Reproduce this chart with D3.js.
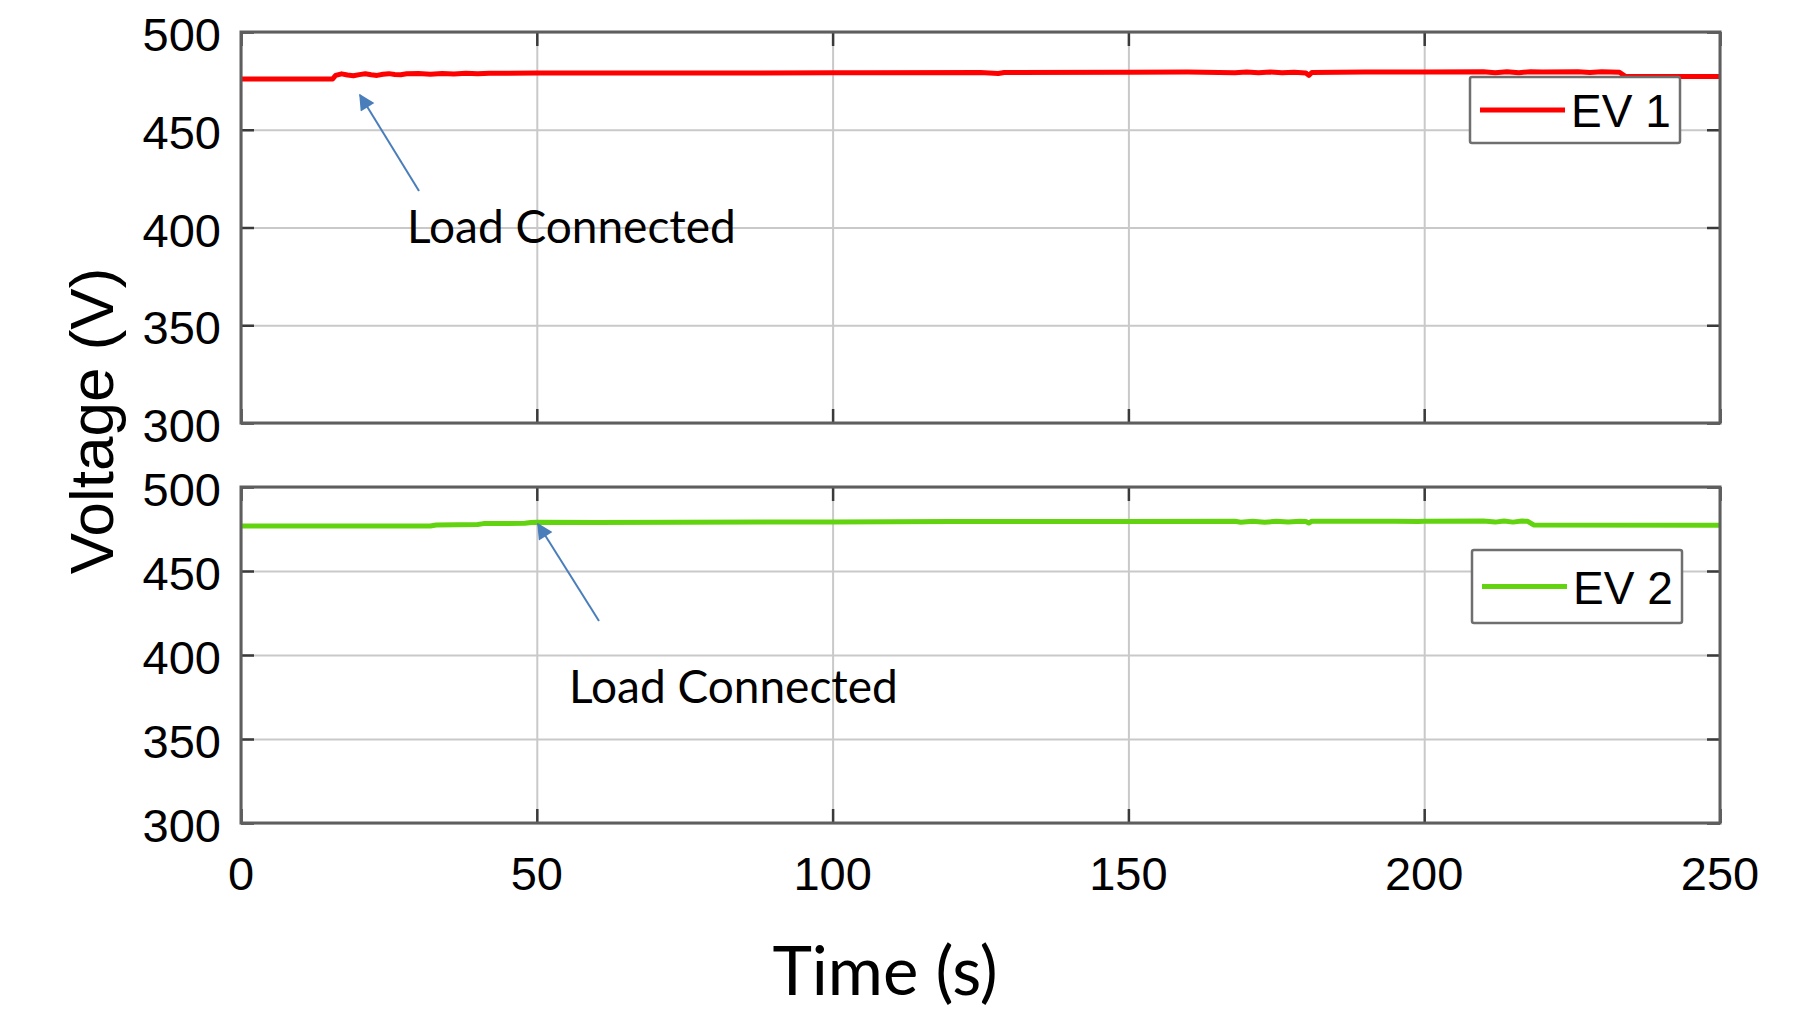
<!DOCTYPE html>
<html>
<head>
<meta charset="utf-8">
<script src="https://cdn.jsdelivr.net/npm/d3@7"></script>
<style>
  body { margin: 0; background: #fff; }
  svg { display: block; }
</style>
</head>
<body>
<div id="chart"></div>
<script>
// values
const xTicks = [0, 50, 100, 150, 200, 250];
const yTicks = [300, 350, 400, 450, 500];

const ev1Time = [0, 15.5, 16, 17, 18, 19, 20, 21, 22, 23, 24, 25, 26, 27, 28, 30, 32, 34, 36, 38, 40, 42, 45,
                 50, 60, 80, 100, 105, 125, 128, 129, 150, 160, 168, 170, 172, 174, 176, 178, 180, 180.5, 181,
                 190, 200, 210, 212, 214, 216, 218, 220, 226, 228, 230, 233, 234, 250];
const ev1Volt = [476.0, 476.0, 477.8, 478.6, 478.0, 477.6, 478.2, 478.6, 478.1, 477.8, 478.4, 478.7, 478.3, 478.1,
                 478.6, 478.8, 478.4, 478.8, 478.5, 478.9, 478.6, 478.9, 478.9, 479.0, 479.0, 479.0, 479.1, 479.2,
                 479.3, 478.8, 479.3, 479.4, 479.5, 479.2, 479.5, 479.1, 479.5, 479.1, 479.4, 479.0, 477.8, 479.3,
                 479.5, 479.6, 479.7, 479.2, 479.7, 479.2, 479.7, 479.6, 479.7, 479.3, 479.7, 479.4, 477.3, 477.3];

const ev2Time = [0, 32, 33, 40, 41, 48, 49, 50, 60, 100, 120, 150, 168, 169, 171, 173, 175, 177, 179, 180, 180.5,
                 181, 195, 199, 200, 210, 212, 213.5, 215, 216.5, 217.5, 218.5, 250];
const ev2Volt = [476.8, 476.8, 477.4, 477.7, 478.2, 478.4, 478.9, 479.0, 478.9, 479.2, 479.4, 479.5, 479.6, 479.0,
                 479.6, 479.0, 479.6, 479.1, 479.6, 479.5, 478.6, 479.6, 479.6, 479.4, 479.6, 479.7, 479.1, 479.7,
                 479.1, 479.7, 479.6, 477.4, 477.2];

const W = 1816, H = 1009;
const left = 241, right = 1720;

const panels = [
  { top: 32, bottom: 423, time: ev1Time, volt: ev1Volt, color: '#ff0000', name: 'EV 1',
    legend: { x: 1470, y: 77, w: 210, h: 66 },
    note: { x: 407, y: 243, tailX: 419, tailY: 191, tipX: 360, tipY: 95 } },
  { top: 487, bottom: 823, time: ev2Time, volt: ev2Volt, color: '#62d40f', name: 'EV 2',
    legend: { x: 1472, y: 550, w: 210, h: 73 },
    note: { x: 569, y: 703, tailX: 599, tailY: 621, tipX: 538, tipY: 524 } }
];

const svg = d3.select('#chart').append('svg')
  .attr('width', W).attr('height', H);

svg.append('defs').append('marker')
  .attr('id', 'head')
  .attr('viewBox', '0 0 10 10')
  .attr('refX', 9).attr('refY', 5)
  .attr('markerWidth', 10).attr('markerHeight', 8)
  .attr('markerUnits', 'strokeWidth')
  .attr('orient', 'auto')
  .append('path').attr('d', 'M0,0 L10,5 L0,10 z').attr('fill', '#4a7ebb');

const x = d3.scaleLinear().domain([0, 250]).range([left, right]);

panels.forEach((p, i) => {
  const y = d3.scaleLinear().domain([300, 500]).range([p.bottom, p.top]);
  const h = p.bottom - p.top;
  const g = svg.append('g');

  // grid
  g.append('g').attr('transform', `translate(0,${p.bottom})`)
    .call(d3.axisBottom(x).tickValues(xTicks).tickSize(-h).tickFormat(''))
    .call(a => a.select('.domain').remove())
    .selectAll('line').attr('stroke', '#c9c9c9').attr('stroke-width', 2);
  g.append('g').attr('transform', `translate(${left},0)`)
    .call(d3.axisLeft(y).tickValues(yTicks).tickSize(-(right - left)).tickFormat(''))
    .call(a => a.select('.domain').remove())
    .selectAll('line').attr('stroke', '#c9c9c9').attr('stroke-width', 2);

  // data
  svg.append('clipPath').attr('id', 'clip' + i)
    .append('rect').attr('x', left).attr('y', p.top).attr('width', right - left).attr('height', h);
  const line = d3.line().x(d => x(d[0])).y(d => y(d[1]));
  g.append('path')
    .datum(d3.zip(p.time, p.volt))
    .attr('d', line)
    .attr('clip-path', `url(#clip${i})`)
    .attr('fill', 'none')
    .attr('stroke', p.color)
    .attr('stroke-width', 5)
    .attr('stroke-linejoin', 'round');

  // inward ticks on all four sides
  const tickStyle = a => {
    a.select('.domain').remove();
    a.selectAll('line').attr('stroke', '#3a3a3a').attr('stroke-width', 2.5);
  };
  g.append('g').attr('transform', `translate(${left},0)`)
    .call(d3.axisLeft(y).tickValues(yTicks).tickSize(-13).tickFormat('')).call(tickStyle);
  g.append('g').attr('transform', `translate(${right},0)`)
    .call(d3.axisRight(y).tickValues(yTicks).tickSize(-13).tickFormat('')).call(tickStyle);
  g.append('g').attr('transform', `translate(0,${p.top})`)
    .call(d3.axisTop(x).tickValues(xTicks).tickSize(-14).tickFormat('')).call(tickStyle);
  g.append('g').attr('transform', `translate(0,${p.bottom})`)
    .call(d3.axisBottom(x).tickValues(xTicks).tickSize(-14).tickFormat('')).call(tickStyle);

  // frame
  g.append('rect')
    .attr('x', left).attr('y', p.top).attr('width', right - left).attr('height', h)
    .attr('fill', 'none').attr('stroke', '#5e5e5e').attr('stroke-width', 3);

  // y tick labels
  g.selectAll('.ylab').data(yTicks).enter().append('text')
    .attr('x', 221).attr('y', d => y(d) + 19)
    .attr('text-anchor', 'end')
    .attr('font-family', 'Liberation Sans, Arial, sans-serif')
    .attr('font-size', 47)
    .attr('fill', '#000')
    .text(d => d);

  // legend
  const L = p.legend;
  const lg = g.append('g');
  lg.append('rect').attr('x', L.x).attr('y', L.y).attr('width', L.w).attr('height', L.h)
    .attr('rx', 2).attr('fill', '#fff').attr('stroke', '#6f6f6f').attr('stroke-width', 2.5);
  lg.append('line')
    .attr('x1', L.x + 10).attr('x2', L.x + 95)
    .attr('y1', L.y + L.h / 2).attr('y2', L.y + L.h / 2)
    .attr('stroke', p.color).attr('stroke-width', 5);
  lg.append('text')
    .attr('x', L.x + 101).attr('y', L.y + L.h / 2 + 17)
    .attr('font-family', 'Liberation Sans, Arial, sans-serif')
    .attr('font-size', 46).attr('fill', '#000')
    .text(p.name);

  // annotation
  const n = p.note;
  g.append('line')
    .attr('x1', n.tailX).attr('y1', n.tailY).attr('x2', n.tipX).attr('y2', n.tipY)
    .attr('stroke', '#4a7ebb').attr('stroke-width', 2)
    .attr('marker-end', 'url(#head)');
  g.append('text')
    .attr('x', n.x).attr('y', n.y)
    .attr('font-family', 'Lato, sans-serif')
    .attr('font-size', 46).attr('fill', '#000')
    .text('Load Connected');
});

// x tick labels under the bottom panel
svg.selectAll('.xlab').data(xTicks).enter().append('text')
  .attr('x', d => x(d)).attr('y', 890)
  .attr('text-anchor', 'middle')
  .attr('font-family', 'Liberation Sans, Arial, sans-serif')
  .attr('font-size', 47).attr('fill', '#000')
  .text(d => d);

svg.append('text')
  .attr('x', 885).attr('y', 995)
  .attr('text-anchor', 'middle')
  .attr('font-family', 'Lato, sans-serif')
  .attr('font-size', 67).attr('fill', '#000')
  .text('Time (s)');

svg.append('text')
  .attr('transform', 'translate(113,421) rotate(-90)')
  .attr('text-anchor', 'middle')
  .attr('font-family', 'Liberation Sans, Arial, sans-serif')
  .attr('font-size', 62).attr('fill', '#000')
  .text('Voltage (V)');
</script>
</body>
</html>
